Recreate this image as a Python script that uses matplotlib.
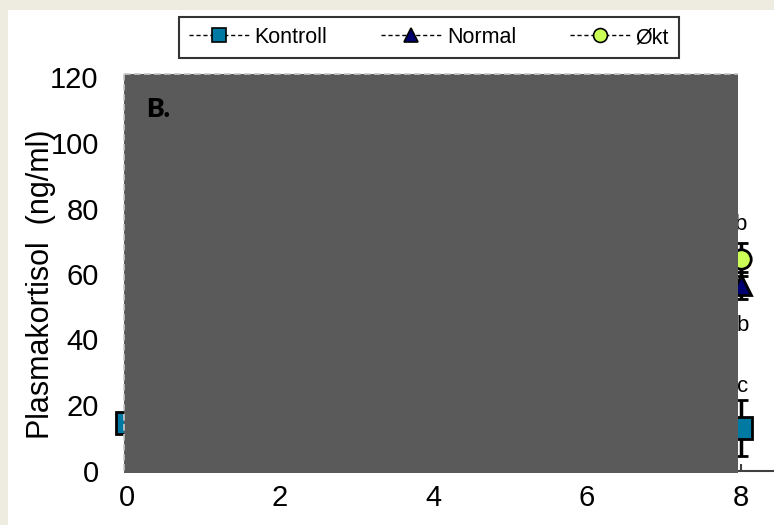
import matplotlib
matplotlib.use("Agg")
import matplotlib.pyplot as plt
from matplotlib.patches import Rectangle
from matplotlib.lines import Line2D

plt.rcParams['font.family'] = ['Liberation Sans', 'DejaVu Sans']

# ---- data (only visible points) ----
kontroll_x = [0, 8]
kontroll_y = [14.5, 13.0]
kontroll_err = [0, 8.5]
normal_x = [8]
normal_y = [56.5]
normal_err = [4.0]
okt_x = [8]
okt_y = [64.5]
okt_err = [5.0]
sig_x = [8.0, 8.03, 8.03]
sig_y = [75.0, 44.4, 25.8]
sig_labels = ['b', 'b', 'c']
xticks = [0, 2, 4, 6, 8]
yticks = [0, 20, 40, 60, 80, 100, 120]

W, H = 774, 525
fig = plt.figure(figsize=(W / 100, H / 100), dpi=100)
fig.patch.set_facecolor('#EEEBE0')
fig.add_artist(Rectangle((8 / W, 0), 1 - 8 / W, (H - 10) / H, transform=fig.transFigure,
                         facecolor='white', edgecolor='none', zorder=-10))

x0px, y0px, ytop = 126.5, 470.5, 77.5
ax = fig.add_axes([x0px / W, (H - y0px) / H, (W - x0px) / W, (y0px - ytop) / H])
ax.set_facecolor('none')
ax.set_xlim(0, (W - x0px) / 76.75)
ax.set_ylim(0, 120)

c_k, c_n, c_o = '#0079A3', '#000070', '#CCFF55'
ax.errorbar(kontroll_x, kontroll_y, yerr=kontroll_err, fmt='s', ls='--', color='black',
            mfc=c_k, mec='black', mew=2, ms=16, ecolor='black', elinewidth=2.5,
            capsize=5, capthick=2.5, lw=1.2, clip_on=False, zorder=3)
ax.errorbar(normal_x, normal_y, yerr=normal_err, fmt='^', ls='--', color='black',
            mfc=c_n, mec='black', mew=2, ms=15, ecolor='black', elinewidth=2.5,
            capsize=5, capthick=2.5, lw=1.2, clip_on=False, zorder=3)
ax.errorbar(okt_x, okt_y, yerr=okt_err, fmt='o', ls='--', color='black',
            mfc=c_o, mec='black', mew=2, ms=14, ecolor='black', elinewidth=2.5,
            capsize=5, capthick=2.5, lw=1.2, clip_on=False, zorder=4)
for xv, yv, s in zip(sig_x, sig_y, sig_labels):
    ax.text(xv, yv, s, fontsize=16, ha='center', va='center', zorder=5)

ax.set_xticks(xticks)
ax.set_yticks(yticks)
ax.tick_params(axis='both', direction='in', labelsize=21, length=5, width=1.5, color='#404040')
ax.tick_params(axis='y', pad=20)
ax.tick_params(axis='x', pad=10)
for s in ['top', 'right']:
    ax.spines[s].set_visible(False)
ax.spines['bottom'].set_color('#404040')
ax.spines['bottom'].set_linewidth(1.5)
ax.spines['left'].set_color('#404040')
ax.spines['left'].set_linewidth(1.5)
ax.set_ylabel('Plasmakortisol  (ng/ml)', fontsize=22)
ax.yaxis.set_label_coords((56 - x0px) / (W - x0px), (y0px - 284) / (y0px - ytop))

# legend
handles = [
    Line2D([], [], ls=(0, (3, 2)), color='black', lw=1, marker='s', mfc=c_k, mec='black', mew=1.2, ms=10),
    Line2D([], [], ls=(0, (3, 2)), color='black', lw=1, marker='^', mfc=c_n, mec='black', mew=1.2, ms=10),
    Line2D([], [], ls=(0, (3, 2)), color='black', lw=1, marker='o', mfc=c_o, mec='black', mew=1.2, ms=10),
]
leg = fig.legend(handles, ['Kontroll', 'Normal', 'Økt'], loc='center',
                 bbox_to_anchor=(429 / W, (H - 37.5) / H), ncol=3, fontsize=15.5,
                 frameon=True, fancybox=False, edgecolor='black', handlelength=2.8,
                 handletextpad=0.25, columnspacing=2.5, borderpad=0.45)
leg.get_frame().set_linewidth(1.5)

# gray overlay box
gx0, gx1, gy0, gy1 = 124, 738, 74, 473
fig.add_artist(Rectangle((gx0 / W, (H - gy1) / H), (gx1 - gx0) / W, (gy1 - gy0) / H,
                         transform=fig.transFigure, facecolor='#5A5A5A', edgecolor='none', zorder=10))
fig.add_artist(Line2D([gx0 / W, gx1 / W], [(H - gy0) / H] * 2, transform=fig.transFigure,
                      color='#C8C8C8', ls=(0, (4, 2)), lw=1.2, zorder=11))
fig.add_artist(Line2D([gx0 / W] * 2, [(H - gy0) / H, (H - gy1) / H], transform=fig.transFigure,
                      color='#C8C8C8', ls=(0, (4, 2)), lw=1.2, zorder=11))
fig.text(146 / W, (H - 117) / H, 'B.', fontsize=19, fontweight='heavy',
         family=['Lato', 'DejaVu Sans'], ha='left', va='baseline', zorder=12)

fig.savefig('out.png', dpi=100, facecolor=fig.get_facecolor())
